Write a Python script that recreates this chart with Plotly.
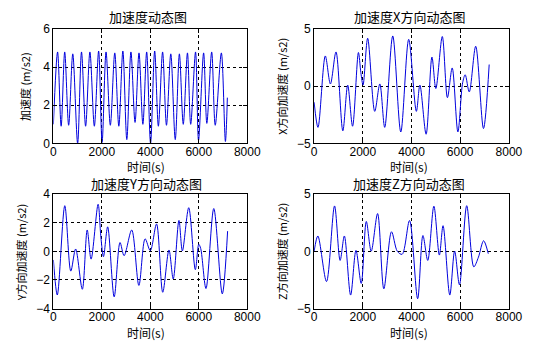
import plotly.graph_objects as go

W, H = 551, 353

# ---- data (time in s, acceleration in m/s2) ----
t_total = [0, 173, 320, 467, 630, 800, 1000, 1160, 1330, 1507, 1690, 1867, 2010,
           2173, 2350, 2533, 2700, 2867, 3030, 3200, 3370, 3533, 3693, 3850, 4010,
           4180, 4333, 4507, 4667, 4845, 5030, 5200, 5360, 5533, 5667, 5867, 5990,
           6200, 6333, 6533, 6680, 6933, 7100, 7180]
a_total = [1.0, 4.8, 0.9, 4.8, 0.95, 4.7, 0.0, 4.8, 0.9, 4.8, 0.9, 4.85, 0.05,
           4.8, 0.95, 4.75, 0.9, 4.85, 0.2, 4.8, 1.1, 4.75, 1.0, 4.8, 0.0,
           4.85, 0.9, 4.8, 0.95, 4.7, 0.2, 4.7, 1.0, 4.75, 1.0, 4.8, 0.15,
           4.75, 1.05, 4.8, 0.95, 4.75, 0.1, 2.4]

t_x = [0, 160, 460, 670, 900, 1180, 1380, 1580, 1820, 1920, 2010, 2200, 2490,
       2700, 2900, 3230, 3560, 3885, 4200, 4345, 4600, 4840, 5000, 5265, 5475,
       5672, 5905, 6100, 6206, 6372, 6637, 6956, 7190]
a_x = [-1.4, -3.6, 2.65, 0.2, 3.0, -3.9, 0.1, -3.5, 2.95, 1.2, 0.1, 4.2, -2.2,
       0.2, -3.6, 4.4, -4.0, 4.1, -2.2, 0.1, -4.2, 2.55, -0.2, 4.35, -1.0,
       1.6, -4.0, 0.3, 1.0, -0.5, 3.5, -3.7, 1.9]

t_y = [0, 161, 470, 718, 918, 1194, 1395, 1556, 1845, 1960, 2066, 2240, 2508,
       2750, 2918, 3233, 3528, 3785, 4000, 4257, 4513, 4770, 4946, 5182, 5323,
       5586, 5858, 6000, 6080, 6298, 6620, 6970, 7190]
a_y = [-0.6, -3.05, 3.2, -1.38, 0.17, -2.65, 1.5, -0.54, 3.3, 1.0, -0.37, 1.72, -3.18,
       0.62, -0.3, 1.5, -2.38, 0.88, 0.05, 1.92, -2.86, 0.1, -1.93, 2.17, 0.03,
       3.06, -1.28, 0.5, 0.2, -2.6, 3.0, -2.97, 1.42]

t_z = [0, 155, 510, 840, 1068, 1243, 1500, 1720, 1936, 2144, 2346, 2608, 2864,
       3179, 3420, 3617, 3920, 4252, 4469, 4668, 4919, 5144, 5296, 5573, 5772,
       5970, 6268, 6559, 6750, 6962, 7154]
a_z = [0.0, 1.35, -2.64, 3.98, -0.79, 1.35, -3.82, 0.09, -2.8, 2.62, 0.02, 3.31, -3.27,
       1.72, 0.0, -0.25, 2.7, -4.14, 1.39, -0.79, 3.96, -0.32, 2.25, -3.82, 0.03,
       -2.92, 4.0, -1.35, -0.5, 0.93, -0.2]

titles = ["加速度动态图", "加速度X方向动态图", "加速度Y方向动态图", "加速度Z方向动态图"]
ylabels = ["加速度 (m/s2)", "X方向加速度 (m/s2)", "Y方向加速度 (m/s2)", "Z方向加速度 (m/s2)"]
xlabel = "时间(s)"
x_ticks = [0, 2000, 4000, 6000, 8000]
y_ticks = [[0, 2, 4, 6], [-5, 0, 5], [-4, -2, 0, 2, 4], [-5, 0, 5]]
y_ranges = [[0, 6], [-5, 5], [-4, 4], [-5, 5]]
series = [(t_total, a_total), (t_x, a_x), (t_y, a_y), (t_z, a_z)]

# ---- layout geometry (pixels) ----
boxes = [(52, 252, 23, 142), (321, 522, 23, 142), (52, 252, 195, 314), (321, 522, 195, 314)]
title_pos = [(150, 10), (419, 10), (148, 184), (419, 184)]
ylab_pos = [(22, 83), (288, 83), (18, 255), (288, 255)]
xlab_pos = [(148, 166), (419, 166), (148, 339), (419, 339)]

CJK = "Noto Sans CJK SC"
LAT = "Liberation Sans"
BLUE = "#0000dd"

fig = go.Figure()
layout = dict(width=W, height=H, margin=dict(l=0, r=0, t=0, b=0),
              paper_bgcolor="white", plot_bgcolor="white", showlegend=False)
annotations = []

def px(x):
    return x / W

def py(y):
    return 1 - y / H

for i, ((t, a), (x0, x1, y0, y1)) in enumerate(zip(series, boxes)):
    sfx = "" if i == 0 else str(i + 1)
    fig.add_trace(go.Scatter(x=t, y=a, mode="lines",
                             line=dict(color=BLUE, width=1, shape="spline", smoothing=0.9),
                             xaxis="x" + sfx, yaxis="y" + sfx, hoverinfo="skip"))
    common = dict(showline=True, linecolor="black", linewidth=1, mirror="ticks",
                  ticks="inside", ticklen=4, tickcolor="black", tickwidth=1,
                  showgrid=True, gridcolor="black", gridwidth=1, griddash="3px,3px",
                  zeroline=False, tickfont=dict(family=LAT, size=12, color="black"))
    layout["xaxis" + sfx] = dict(domain=[px(x0), px(x1)], range=[0, 8000],
                                 tickvals=x_ticks, anchor="y" + sfx,
                                 ticklabelstandoff=-3, **common)
    layout["yaxis" + sfx] = dict(domain=[py(y1), py(y0)], range=y_ranges[i],
                                 tickvals=y_ticks[i], anchor="x" + sfx, **common)
    tx, ty = title_pos[i]
    annotations.append(dict(text=titles[i], x=px(tx), y=py(ty), xref="paper", yref="paper",
                            xanchor="center", yanchor="middle", showarrow=False, borderpad=0,
                            font=dict(family=CJK, size=13, color="black")))
    lx, ly = ylab_pos[i]
    annotations.append(dict(text=ylabels[i], x=px(lx), y=py(ly), xref="paper", yref="paper",
                            xanchor="center", yanchor="middle", showarrow=False, textangle=-90,
                            borderpad=0, font=dict(family=CJK, size=11, color="black")))
    bx, by = xlab_pos[i]
    annotations.append(dict(text=xlabel, x=px(bx), y=py(by), xref="paper", yref="paper",
                            xanchor="center", yanchor="middle", showarrow=False, borderpad=0,
                            font=dict(family=CJK, size=12, color="black")))

layout["annotations"] = annotations
fig.update_layout(**layout)
fig.write_html("out.html")
